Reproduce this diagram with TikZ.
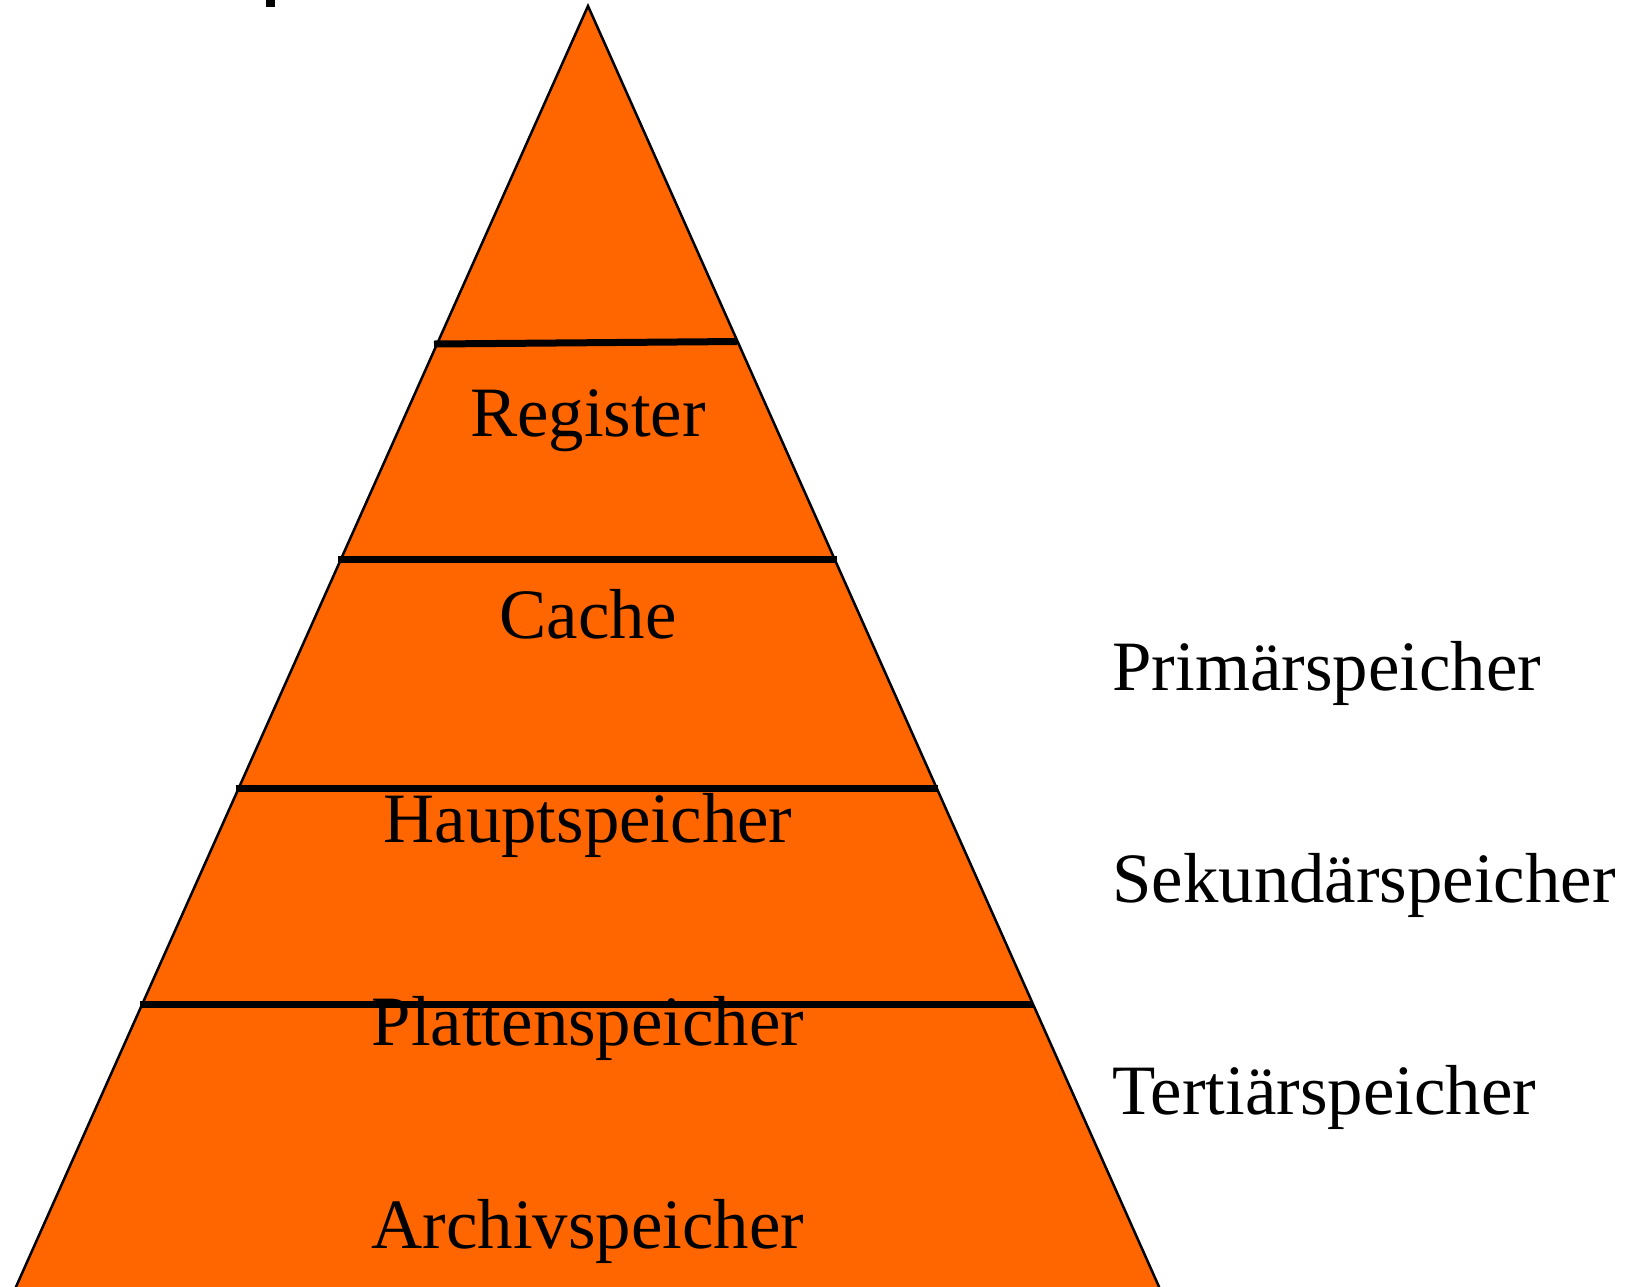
\documentclass[tikz,border=0pt]{standalone}
\usepackage{fontspec}
\setmainfont{Liberation Serif}
\begin{document}
\begin{tikzpicture}[x=0.5pt,y=-0.5pt,
  layer/.style={fill=pyr,draw=black,line width=1.25pt,line join=miter},
  divider/.style={draw=black,line width=3.5pt},
  lbl/.style={font=\fontsize{35.4}{42}\selectfont,inner sep=0pt,anchor=base},
  sidelbl/.style={lbl,anchor=base west}]
\definecolor{pyr}{HTML}{FF6600}
\useasboundingbox (0,0) rectangle (1638,1286);
\clip (0,0) rectangle (1638,1286);

% small mark at the top edge
\fill[black] (266,0) rectangle (275,7);

% pyramid body, running past the lower edge
\coordinate (apex) at (588,6);
\coordinate (bl) at (11,1298);
\coordinate (br) at (1164,1298);
\path[layer] (bl) -- (apex) -- (br);

% level dividers
\coordinate (d1l) at (434,344);  \coordinate (d1r) at (737,341.5);
\coordinate (d2l) at (338,559.5);\coordinate (d2r) at (837,559.5);
\coordinate (d3l) at (236,788);  \coordinate (d3r) at (938,788);
\coordinate (d4l) at (140,1004.5);\coordinate (d4r) at (1033,1004.5);
\draw[divider] (d1l) -- (d1r);
\draw[divider] (d2l) -- (d2r);
\draw[divider] (d3l) -- (d3r);
\draw[divider] (d4l) -- (d4r);

% level labels
\node[lbl] (reg) at (588,436.5) {Register};
\node[lbl] (cache) at (588,638.3) {Cache};
\node[lbl] (haupt) at (588,842) {Hauptspeicher};
\node[lbl] (platte) at (588,1045) {Plattenspeicher};
\node[lbl] (archiv) at (588,1248) {Archivspeicher};

% storage classes
\node[sidelbl] (prim) at (1112,690) {Primärspeicher};
\node[sidelbl] (sek) at (1112,902) {Sekundärspeicher};
\node[sidelbl] (tert) at (1112,1114) {Tertiärspeicher};
\end{tikzpicture}
\end{document}
